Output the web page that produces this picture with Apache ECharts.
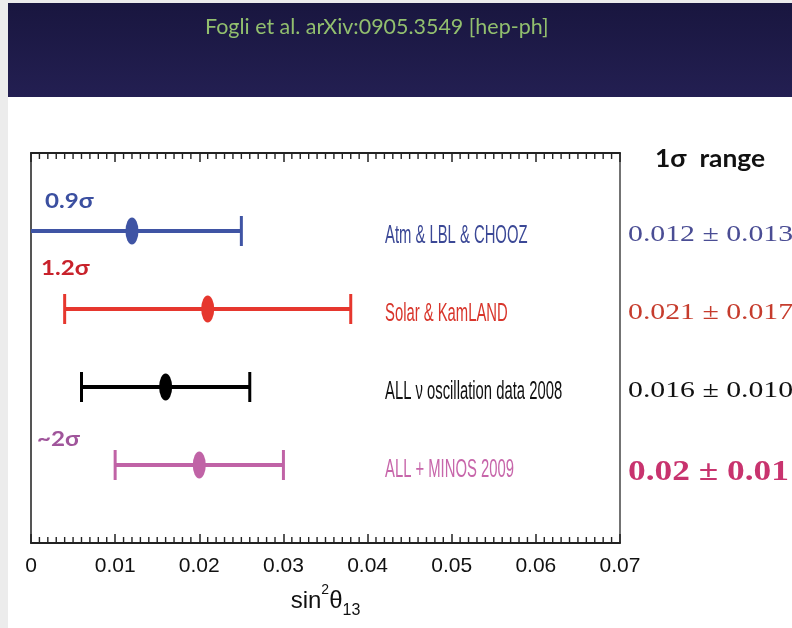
<!DOCTYPE html>
<html>
<head>
<meta charset="utf-8">
<script src="https://cdn.jsdelivr.net/npm/echarts@6/dist/echarts.min.js"></script>
<style>
  html, body { margin: 0; padding: 0; background: #ececec; }
  #chart { width: 792px; height: 628px; }
</style>
</head>
<body>
<div id="chart"></div>
<script>
// sin^2(theta13) fits: best-fit values with 1-sigma errors, one row per data set
const datasets = ['Atm & LBL & CHOOZ', 'Solar & KamLAND', 'ALL \u03bd oscillation data 2008', 'ALL + MINOS 2009'];
const bestFit = [0.012, 0.021, 0.016, 0.02];
const oneSigma = [0.013, 0.017, 0.010, 0.01];
const shownDigits = [3, 3, 3, 2];
const rowLevel = [4, 3, 2, 1];
const significance = ['0.9\u03c3', '1.2\u03c3', '', '~2\u03c3'];

// x axis range, major tick step and number of minor divisions per major step
const xMin = 0, xMax = 0.07, xStep = 0.01, minorPerMajor = 10;
// y range holding the four rows
const yMin = 0, yMax = 5;

// colours per row
const barColors = ['#3f54a4', '#e6372e', '#000000', '#c063a6'];
const nameColors = ['#3b4896', '#d8352b', '#111111', '#c766aa'];
const rangeColors = ['#4a4d94', '#c63c2d', '#111111', '#c8336e'];
const sigmaColors = ['#3b4fa0', '#c8222b', '#000000', '#a0559b'];

const sans = "'Liberation Sans',sans-serif";

// minor tick positions between the labelled ticks
const minorTicks = [];
const nMajor = Math.round((xMax - xMin) / xStep);
for (let k = 0; k < nMajor; k++) {
  for (let j = 1; j < minorPerMajor; j++) {
    minorTicks.push(+(xMin + k * xStep + j * xStep / minorPerMajor).toFixed(6));
  }
}

const chart = echarts.init(document.getElementById('chart'), null, { renderer: 'canvas' });

// major-tick axes (bottom with labels, top mirrored)
const majorAxis = (pos) => ({
  type: 'value', position: pos, min: xMin, max: xMax, interval: xStep,
  axisLine: { show: true, onZero: false, lineStyle: { color: '#222', width: 2 } },
  axisTick: { show: true, inside: true, length: 9, lineStyle: { color: '#222', width: 1.5 } },
  axisLabel: { show: false },
  splitLine: { show: false },
  z: 5
});

const bottomAxis = Object.assign(majorAxis('bottom'), {
  axisLabel: {
    show: true, margin: 13, color: '#111', fontSize: 21, fontFamily: sans,
    formatter: v => (Math.abs(v) < 1e-9 ? '0' : v.toFixed(2))
  },
  name: '{t|sin}{sup|2}{t|\u03b8}{sub|13}',
  nameLocation: 'middle',
  nameGap: 40,
  nameTextStyle: {
    rich: {
      t: { fontSize: 24, fontFamily: sans, color: '#111', lineHeight: 36, verticalAlign: 'middle' },
      sup: { fontSize: 14, fontFamily: sans, color: '#111', lineHeight: 36, verticalAlign: 'top' },
      sub: { fontSize: 16, fontFamily: sans, color: '#111', lineHeight: 36, verticalAlign: 'bottom' }
    }
  }
});

const rows = bestFit.map((b, i) => [b, oneSigma[i], rowLevel[i], i]);

chart.setOption({
  animation: false,
  backgroundColor: 'transparent',
  grid: { left: 31, right: 172, top: 153, bottom: 85, show: true, backgroundColor: '#fff', borderWidth: 0 },
  xAxis: [bottomAxis, majorAxis('top')],
  yAxis: [
    { type: 'value', min: yMin, max: yMax, interval: 1, position: 'left',
      axisLine: { show: true, onZero: false, lineStyle: { color: '#555', width: 2 } },
      axisTick: { show: false }, axisLabel: { show: false }, splitLine: { show: false } },
    { type: 'value', min: yMin, max: yMax, interval: 1, position: 'right',
      axisLine: { show: true, onZero: false, lineStyle: { color: '#444', width: 1.5 } },
      axisTick: { show: false }, axisLabel: { show: false }, splitLine: { show: false } }
  ],
  series: [
    {
      // short inward minor ticks on the bottom and top frame
      type: 'custom',
      silent: true,
      data: minorTicks.map(v => [v, yMin]),
      encode: { x: 0, y: 1 },
      renderItem: (params, api) => {
        const v = api.value(0);
        const b = api.coord([v, yMin]);
        const t = api.coord([v, yMax]);
        const len = 6;
        const st = { stroke: '#222', lineWidth: 1.4 };
        return { type: 'group', children: [
          { type: 'line', shape: { x1: b[0], y1: b[1], x2: b[0], y2: b[1] - len }, style: st },
          { type: 'line', shape: { x1: t[0], y1: t[1], x2: t[0], y2: t[1] + len }, style: st }
        ] };
      },
      z: 6
    },
    {
      // horizontal 1-sigma bars with end caps (a cap is omitted where the bar runs past the axis)
      type: 'custom',
      data: rows,
      renderItem: (params, api) => {
        const best = api.value(0), err = api.value(1), lvl = api.value(2), idx = api.value(3);
        const lo = best - err, hi = best + err;
        const pLo = api.coord([Math.max(lo, xMin), lvl]);
        const pHi = api.coord([Math.min(hi, xMax), lvl]);
        const col = barColors[idx];
        const kids = [{
          type: 'line', shape: { x1: pLo[0], y1: pLo[1], x2: pHi[0], y2: pHi[1] },
          style: { stroke: col, lineWidth: 4 }
        }];
        const cap = 15;
        if (lo >= xMin) kids.push({ type: 'line', shape: { x1: pLo[0], y1: pLo[1] - cap, x2: pLo[0], y2: pLo[1] + cap }, style: { stroke: col, lineWidth: 3 } });
        if (hi <= xMax) kids.push({ type: 'line', shape: { x1: pHi[0], y1: pHi[1] - cap, x2: pHi[0], y2: pHi[1] + cap }, style: { stroke: col, lineWidth: 3 } });
        return { type: 'group', children: kids };
      },
      z: 3
    },
    {
      // best-fit points
      type: 'scatter',
      symbol: 'circle',
      symbolSize: [13, 27],
      data: bestFit.map((b, i) => ({ value: [b, rowLevel[i]], itemStyle: { color: barColors[i], opacity: 1 } })),
      z: 4
    }
  ]
});

// annotation text, anchored to the rows of the chart
const rowY = rowLevel.map(l => chart.convertToPixel({ yAxisIndex: 0 }, l));
const txt = (x, y, text, fill, font, sx) => ({
  type: 'text', x: x, y: y, scaleX: sx || 1,
  style: { text: text, fill: fill, font: font, textVerticalAlign: 'middle', textAlign: 'left' }
});

const graphics = [
  // slide header band
  { type: 'rect', left: 8, top: 3, shape: { width: 784, height: 94 }, z: -10,
    style: { fill: new echarts.graphic.LinearGradient(0, 0, 0, 1, [
      { offset: 0, color: '#19163f' }, { offset: 1, color: '#231f52' }]) } },
  // white slide body
  { type: 'rect', left: 8, top: 97, shape: { width: 784, height: 531 }, z: -10, style: { fill: '#ffffff' } },
  txt(205, 27, 'Fogli et al. arXiv:0905.3549 [hep-ph]', '#92bf6e', "22px 'Lato',sans-serif", 0.975),
  txt(655, 159, '1\u03c3  range', '#111', "bold 24px 'Lato',sans-serif", 1.1)
];

datasets.forEach((name, i) => {
  const y = rowY[i];
  graphics.push(txt(385, y + 5, name, nameColors[i], "26px 'Liberation Sans',sans-serif", 0.57));
  const last = i === datasets.length - 1;
  const d = shownDigits[i];
  const rangeText = bestFit[i].toFixed(d) + ' \u00b1 ' + oneSigma[i].toFixed(d);
  graphics.push(txt(628, y + (last ? 8 : 4), rangeText, rangeColors[i],
    last ? "bold 29px 'Liberation Serif',serif" : "24px 'Liberation Serif',serif", last ? 1.22 : 1.24));
  if (significance[i]) {
    const sx = [45, 41, 0, 37][i];
    const dy = [-30, -41, 0, -26][i];
    graphics.push(txt(sx, y + dy, significance[i], sigmaColors[i], "bold 21px 'Lato',sans-serif", 1.15));
  }
});

chart.setOption({ graphic: graphics });
</script>
</body>
</html>
